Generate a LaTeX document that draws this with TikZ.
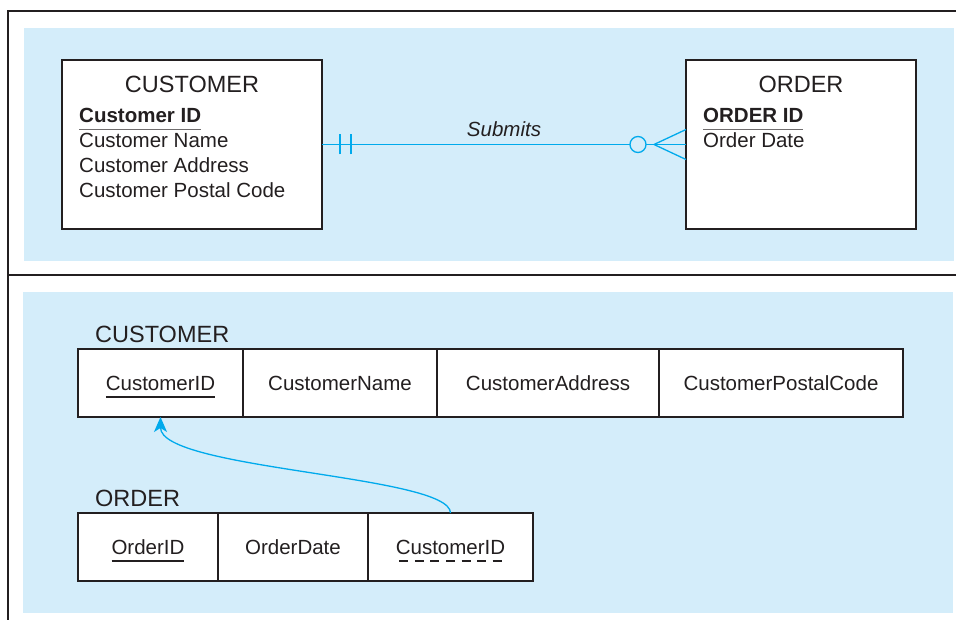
\documentclass[tikz,border=0pt]{standalone}
\usepackage{fontspec}
\setmainfont{Liberation Sans}
\usepackage{xcolor}
\usepackage{tikz}
\usetikzlibrary{arrows.meta,positioning,calc}
\definecolor{panel}{RGB}{212,237,250}
\definecolor{erline}{RGB}{0,170,236}
\definecolor{ink}{RGB}{35,31,32}
\tikzset{
  frame/.style={line width=2pt, ink},
  entity/.style={draw=ink, line width=1.2pt, fill=white, minimum width=260pt, minimum height=169pt, inner sep=0pt, outer sep=0pt, anchor=north west},
  etitle/.style={font=\fontsize{23.5}{28}\selectfont, text=ink, inner sep=0pt, anchor=base},
  tlabel/.style={etitle, anchor=base west},
  attr/.style={font=\fontsize{20.5}{24}\selectfont, text=ink, inner sep=0pt, anchor=base west},
  rlabel/.style={font=\fontsize{20.5}{24}\selectfont\itshape, text=ink, inner sep=0pt, anchor=base},
  cell/.style={draw=ink, line width=1.2pt, fill=white, minimum height=68pt, inner sep=0pt, outer sep=0pt, text height=14.5pt, text depth=0pt, font=\fontsize{20.5}{24}\selectfont, text=ink},
  rel/.style={erline, line width=1.3pt},
  fk/.style={erline, line width=1.3pt, -{Stealth[length=15pt,width=13pt,inset=4pt]}},
}
\newsavebox{\keybox}
\newcommand{\pkey}[2][ink]{\sbox{\keybox}{#2}\makebox[0pt][l]{\textcolor{#1}{\rule[-7.5pt]{\wd\keybox}{1.7pt}}}\usebox{\keybox}}
\newcommand{\fkey}[1]{\sbox{\keybox}{#1}\makebox[0pt][l]{\hbox to\wd\keybox{\color{ink}\xleaders\hbox to 15pt{\hss\rule[-7.5pt]{9pt}{1.4pt}\hss}\hfill}}\usebox{\keybox}}

\begin{document}
\begin{tikzpicture}[x=1pt,y=-1pt]
\useasboundingbox (0,0) rectangle (956,620);
\fill[panel] (24,28) rectangle (954,261);
\fill[panel] (23,292) rectangle (953,613);
\draw[frame] (7.5,620) -- (7.5,11) -- (956,11);
\draw[frame] (7.5,275.5) -- (956,275.5);

\node[entity] (cust) at (62,60) {};
\node[entity, minimum width=230pt] (ord) at (686,60) {};
\node[etitle] (custT) at (192,93) {CUSTOMER};
\node[etitle] (ordT) at (801,93) {ORDER};
\node[attr] (custK) at (79,123) {\pkey[ink!65]{\textbf{Customer ID}}};
\foreach \t [count=\i] in {Customer Name, Customer Address, Customer Postal Code}
  \node[attr] (custA\i) at (79,123+25*\i) {\t};
\node[attr] (ordK) at (703,123) {\pkey[ink!65]{\textbf{ORDER ID}}};
\node[attr] (ordA1) at (703,148) {Order Date};

\draw[rel] (cust.east) -- node[rlabel, midway, yshift=8pt] (relT) {Submits} (ord.west);
\draw[rel] ([xshift=18pt,yshift=-10pt]cust.east) -- ([xshift=18pt,yshift=10pt]cust.east);
\draw[rel] ([xshift=29pt,yshift=-10pt]cust.east) -- ([xshift=29pt,yshift=10pt]cust.east);
\draw[rel] ([yshift=15pt]ord.west) -- ([xshift=-32pt]ord.west) -- ([yshift=-15pt]ord.west);
\draw[rel, fill=panel] ([xshift=-48pt]ord.west) circle (8pt);

\node[tlabel] (custL) at (95,342) {CUSTOMER};
\node[cell, minimum width=165pt, anchor=north west] (cId) at (78,349) {\pkey{CustomerID}};
\node[cell, minimum width=194pt, right=0pt of cId] (cName) {CustomerName};
\node[cell, minimum width=222pt, right=0pt of cName] (cAddr) {CustomerAddress};
\node[cell, minimum width=244pt, right=0pt of cAddr] (cPost) {CustomerPostalCode};

\node[tlabel] (ordL) at (95,506) {ORDER};
\node[cell, minimum width=140pt, anchor=north west] (oId) at (78,513) {\pkey{OrderID}};
\node[cell, minimum width=150pt, right=0pt of oId] (oDate) {OrderDate};
\node[cell, minimum width=165pt, right=0pt of oDate] (oCust) {\fkey{CustomerID}};

\draw[fk] (oCust.north) .. controls ([yshift=38pt]oCust.north) and ([yshift=-53pt]cId.south) .. (cId.south);
\end{tikzpicture}
\end{document}
